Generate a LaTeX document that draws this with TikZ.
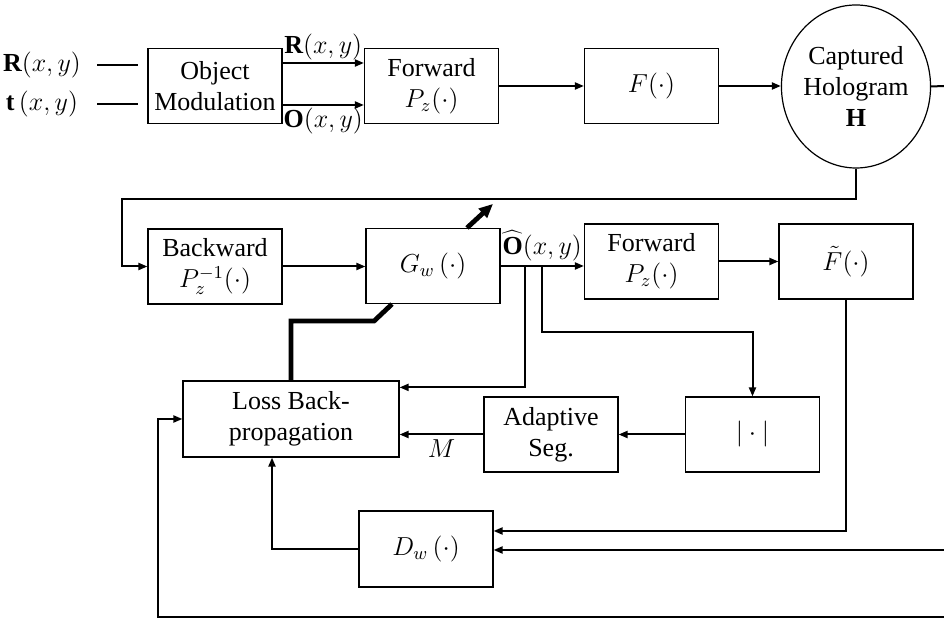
\RequirePackage{fix-cm}
\documentclass[tikz,border=0pt]{standalone}
\usepackage{fontspec}
\setmainfont{Liberation Serif}
\usetikzlibrary{arrows.meta,shapes.geometric}
\tikzset{
blk/.style={draw, line width=0.6pt, minimum width=67pt, minimum height=37.5pt, inner sep=0pt, align=center},
arr/.style={line width=1pt, -{Triangle[length=4.5pt,width=3.5pt]}},
ln/.style={line width=1pt},
fat/.style={line width=2.4pt}
}
\begin{document}
\begin{tikzpicture}[x=0.5pt,y=-0.5pt,font=\fontsize{13}{15.5}\selectfont]
\useasboundingbox (0,0) rectangle (944,619);
\node (Rin) at (42,65) {$\mathbf{R}(x,y)$};
\node (tin) at (42,104) {$\mathbf{t}\,(x,y)$};
\coordinate (r1a) at (97,65); \coordinate (r1b) at (138,65);
\coordinate (t1a) at (97,104); \coordinate (t1b) at (138,104);
\node[blk] (om) at (215,86) {Object\\Modulation};
\node[blk] (fw1) at (431.5,86) {Forward\\$P_z(\cdot)$};
\node[blk] (F) at (651.5,86) {$F(\cdot)$};
\node[draw, line width=0.6pt, ellipse, minimum width=72pt, minimum height=81.5pt, inner sep=0pt, align=center] (holo) at (856,86.5) {Captured\\Hologram\\$\mathbf{H}$};
\coordinate (out1) at (944,86);
\node[blk] (bw) at (215,266.5) {Backward\\$P_z^{-1}(\cdot)$};
\node[blk] (G) at (433,266) {$G_w\,(\cdot)$};
\node[blk] (fw2) at (651.5,261.5) {Forward\\$P_z(\cdot)$};
\node[blk] (Ft) at (846,261.5) {$\tilde{F}(\cdot)$};
\node[blk, minimum width=108pt, minimum height=38pt] (loss) at (291,419) {Loss Back-\\propagation};
\node[blk] (seg) at (551,434.5) {Adaptive\\Seg.};
\node[blk] (abs) at (752.5,434.5) {$|\cdot|$};
\node[blk, minimum height=38pt] (D) at (426,549) {$D_w\,(\cdot)$};
\coordinate (b1) at (525,266); \coordinate (b2) at (542,266);
\coordinate (in2) at (944,550); \coordinate (in3) at (944,617);
\draw[ln] (r1a) -- (r1b);
\draw[ln] (t1a) -- (t1b);
\draw[arr] ([yshift=11.5pt]om.east) -- ([yshift=11.5pt]om.east -| fw1.west) node[midway,above,inner sep=1pt]{$\mathbf{R}(x,y)$};
\draw[arr] ([yshift=-9.5pt]om.east) -- ([yshift=-9.5pt]om.east -| fw1.west) node[midway,below,inner sep=1pt]{$\mathbf{O}(x,y)$};
\draw[arr] (fw1.east) -- (F.west);
\draw[arr] (F.east) -- (F.east -| holo.west);
\draw[ln] (holo.east) -- (out1);
\draw[arr] (holo.south) -- ++(0,30) -| ([xshift=-12.5pt]bw.west) -- (bw.west);
\draw[arr] (bw.east) -- (bw.east -| G.west);
\draw[arr] (G.east) -- (G.east -| fw2.west) node[midway,above,inner sep=2pt]{$\widehat{\mathbf{O}}(x,y)$};
\draw[arr] (fw2.east) -- (Ft.west);
\draw[arr] (b1) |- ([yshift=-3.5pt]loss.north east);
\draw[arr] (b2) -- ++(0,66) -| (abs.north);
\draw[arr] (abs.west) -- (abs.west -| seg.east);
\draw[arr] (seg.west) -- (seg.west -| loss.east) node[midway,below,inner sep=2pt]{$M$};
\draw[arr] (Ft.south) |- ([yshift=9pt]D.east);
\draw[arr] (in2) -- (in2 -| D.east);
\draw[arr] (D.west) -| ([xshift=-9.5pt]loss.south);
\draw[arr] (in3) -| ([xshift=-12pt]loss.west) -- (loss.west);
\draw[fat] ([xshift=-20.5pt]G.south) -- ++(-18,17) -| (loss.north);
\draw[fat, -{Triangle[length=7pt,width=6pt]}] ([xshift=17pt]G.north) -- ++(26,-24);
\end{tikzpicture}
\end{document}
